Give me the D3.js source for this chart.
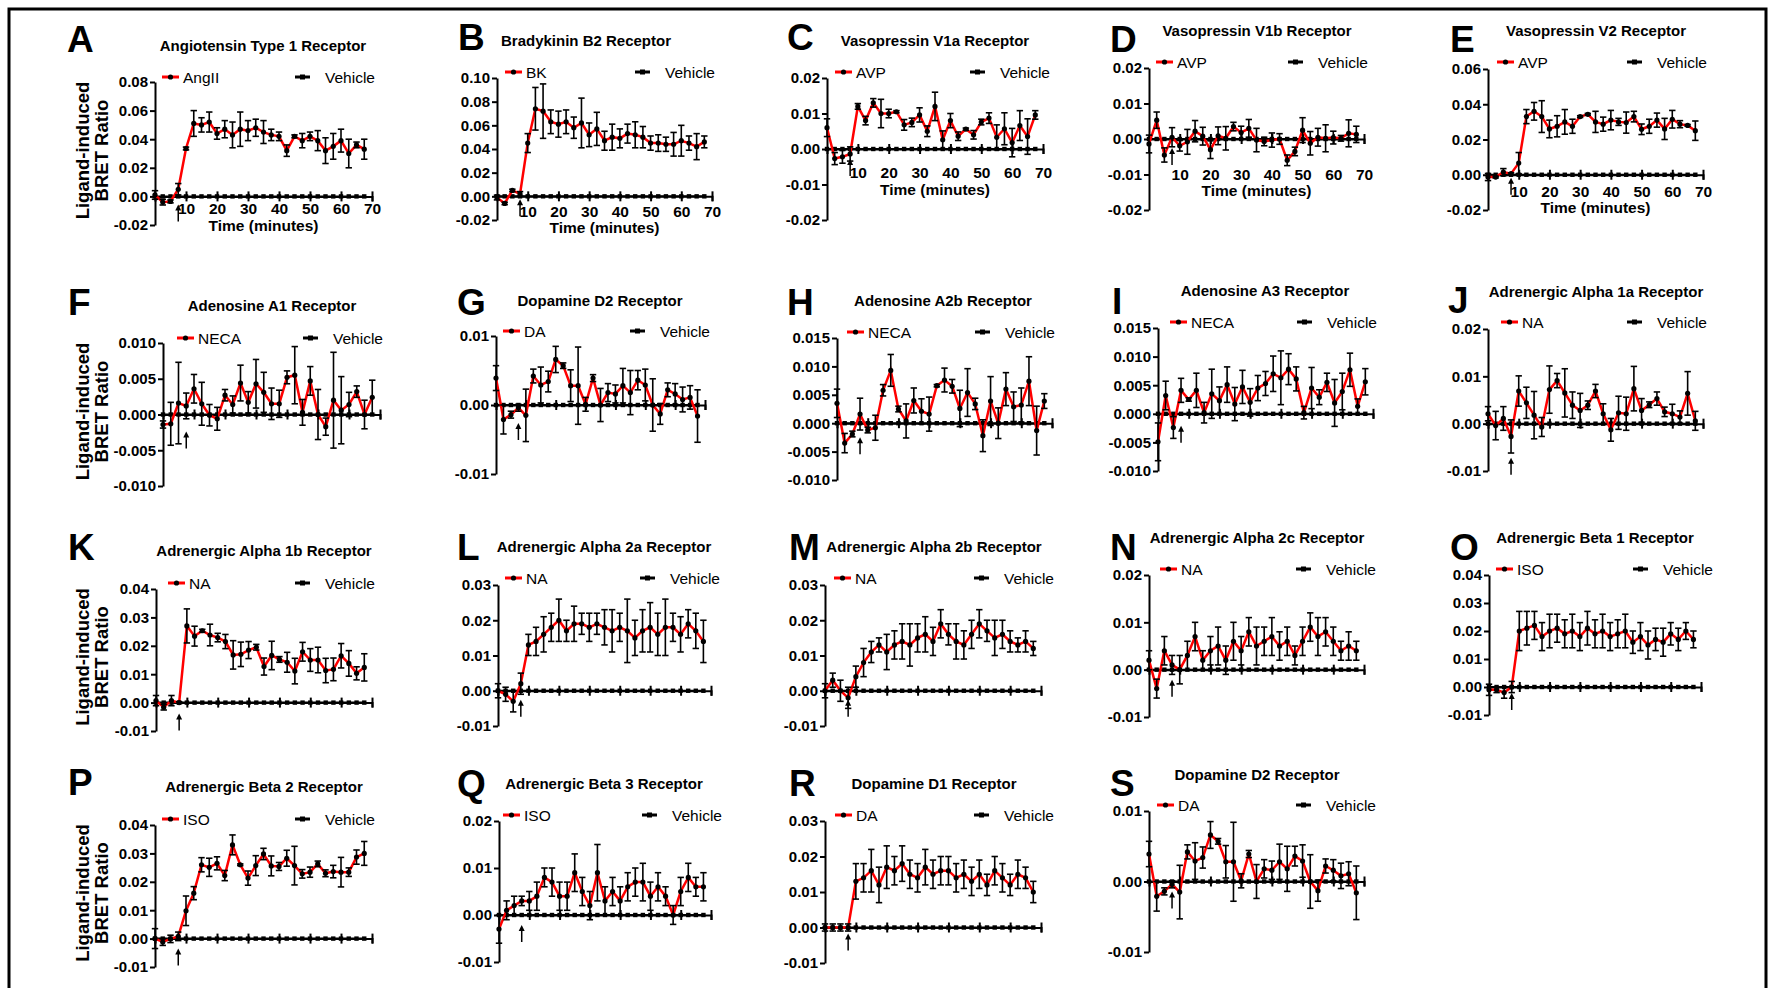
<!DOCTYPE html>
<html>
<head>
<meta charset="utf-8">
<script src="https://cdn.jsdelivr.net/npm/d3@7"></script>
<style>
body { margin: 0; background: #fff; }
svg text { font-family: "Liberation Sans", Arial, Helvetica, sans-serif; fill: #000; }
</style>
</head>
<body>
<svg id="fig" width="1775" height="988"></svg>
<script>
// one reading every 2.5 min, ligand added at 7.5 min
let times = [0, 2.5, 5, 7.5, 10, 12.5, 15, 17.5, 20, 22.5, 25, 27.5, 30, 32.5, 35, 37.5, 40, 42.5, 45, 47.5, 50, 52.5, 55, 57.5, 60, 62.5, 65, 67.5];
let vehicle = [0, 0, 0, 0, 0, 0, 0, 0, 0, 0, 0, 0, 0, 0, 0, 0, 0, 0, 0, 0, 0, 0, 0, 0, 0, 0, 0, 0];
let addTime = 7.5;
let xTicks = [10, 20, 30, 40, 50, 60, 70];

// ligand curves (mean, sem)
let meanA = [0.001, -0.004, -0.0035, 0.005, 0.0335, 0.051, 0.050, 0.052, 0.044, 0.047, 0.043, 0.047, 0.046, 0.048, 0.045, 0.043, 0.042, 0.032, 0.042, 0.039, 0.042, 0.039, 0.032, 0.035, 0.039, 0.030, 0.036, 0.033];
let semA = [0.003, 0.002, 0.001, 0.004, 0.001, 0.009, 0.005, 0.007, 0.004, 0.006, 0.009, 0.012, 0.007, 0.006, 0.008, 0.004, 0.003, 0.004, 0.001, 0.005, 0.003, 0.007, 0.009, 0.009, 0.008, 0.010, 0.002, 0.007];
let meanB = [-0.001, -0.006, 0.005, 0.002, 0.045, 0.074, 0.072, 0.063, 0.061, 0.063, 0.058, 0.062, 0.052, 0.057, 0.047, 0.050, 0.049, 0.053, 0.052, 0.050, 0.045, 0.045, 0.044, 0.044, 0.047, 0.045, 0.042, 0.046];
let semB = [0.002, 0.001, 0.001, 0.002, 0.008, 0.018, 0.023, 0.010, 0.011, 0.010, 0.009, 0.021, 0.010, 0.014, 0.008, 0.011, 0.008, 0.008, 0.011, 0.009, 0.006, 0.007, 0.006, 0.010, 0.013, 0.006, 0.011, 0.005];
let meanC = [0.006, -0.0027, -0.0022, -0.0014, 0.012, 0.008, 0.013, 0.010, 0.010, 0.0105, 0.0068, 0.0075, 0.0096, 0.005, 0.012, 0.0026, 0.008, 0.0036, 0.0056, 0.004, 0.0076, 0.0087, 0.0033, 0.0057, 0.0018, 0.0066, 0.0035, 0.0096];
let semC = [0.0025, 0.0017, 0.0018, 0.002, 0.0008, 0.0012, 0.0012, 0.004, 0.0012, 0.0003, 0.0015, 0.0012, 0.002, 0.0015, 0.004, 0.0025, 0.002, 0.0012, 0.0003, 0.0012, 0.0008, 0.0015, 0.0035, 0.0045, 0.004, 0.0042, 0.005, 0.0012];
let meanD = [-0.0014, 0.0053, -0.0045, 0.0005, -0.0019, -0.0008, 0.0022, 0.0008, -0.003, 0.0009, 0.0002, 0.0035, 0.0018, 0.003, -0.0003, -0.0007, -0.0003, 0, -0.006, -0.0035, 0.0025, -0.0012, 0.0005, 0.0002, 0.0004, 0.0002, 0.0016, 0.0013];
let semD = [0.0025, 0.0023, 0.002, 0.0027, 0.0015, 0.0035, 0.003, 0.0025, 0.0025, 0.0025, 0.0033, 0.0012, 0.0018, 0.0025, 0.0033, 0.0012, 0.002, 0.0015, 0.0015, 0.0012, 0.0035, 0.0033, 0.0025, 0.0038, 0.0018, 0.0008, 0.0038, 0.0023];
let meanE = [-0.0013, -0.0013, 0.0015, 0.0006, 0.0066, 0.033, 0.036, 0.033, 0.026, 0.0275, 0.030, 0.0275, 0.033, 0.0343, 0.030, 0.0287, 0.031, 0.030, 0.0296, 0.033, 0.0258, 0.0275, 0.031, 0.026, 0.0315, 0.0287, 0.028, 0.025];
let semE = [0.002, 0.0005, 0.002, 0.0005, 0.006, 0.004, 0.005, 0.009, 0.005, 0.006, 0.007, 0.004, 0.0005, 0.0005, 0.006, 0.004, 0.0055, 0.002, 0.006, 0.003, 0.003, 0.004, 0.004, 0.006, 0.005, 0.002, 0.0005, 0.0055];
let meanF = [-0.0014, -0.0013, 0.0016, 0.0012, 0.0036, 0.0015, -0.0001, -0.0006, 0.0027, 0.0014, 0.0044, 0.0017, 0.0043, 0.0031, 0.0015, 0.0015, 0.0052, 0.0055, 0.0003, 0.0047, 0, -0.0017, 0.002, 0.0006, 0.0014, 0.0032, 0, 0.0024];
let semF = [0.0005, 0.003, 0.0057, 0.0018, 0.002, 0.003, 0.0015, 0.0016, 0.0008, 0.0012, 0.0025, 0.0015, 0.0034, 0.0028, 0.0022, 0.0019, 0.0009, 0.004, 0.0018, 0.002, 0.0035, 0.0012, 0.0067, 0.0047, 0.0017, 0.0008, 0.002, 0.0024];
let meanG = [0.0039, -0.0021, -0.0014, -0.0004, -0.0015, 0.0042, 0.0029, 0.0034, 0.0066, 0.0057, 0.0028, 0.0028, 0.0001, 0.0039, 0, 0.0018, 0.0016, 0.0028, 0.0018, 0.0036, 0.0029, 0, -0.0013, 0.0022, 0.0016, 0.0008, 0.0011, -0.0016];
let semG = [0.0018, 0.0021, 0.0005, 0.0005, 0.0038, 0.001, 0.0026, 0.0015, 0.0019, 0.0004, 0.0023, 0.0056, 0.001, 0.0005, 0.0024, 0.0013, 0.0013, 0.0025, 0.0032, 0.0014, 0.0023, 0.0038, 0.0015, 0.001, 0.0015, 0.0018, 0.0017, 0.0038];
let meanH = [0.0035, -0.0035, -0.0019, 0.0016, -0.0012, -0.0008, 0.0058, 0.0093, 0.0025, 0.0004, 0.004, 0.0021, 0.0016, 0.0066, 0.0076, 0.0065, 0.0026, 0.0054, 0.0034, -0.0022, 0.0039, 0, 0.006, 0.0029, 0.0032, 0.0074, -0.0013, 0.0039];
let semH = [0.0025, 0.0017, 0.0005, 0.0028, 0.0005, 0.0022, 0.001, 0.0028, 0.0005, 0.003, 0.0022, 0.0022, 0.003, 0.0002, 0.0021, 0.0012, 0.0032, 0.0042, 0.001, 0.0028, 0.0043, 0.0027, 0.0029, 0.0026, 0.003, 0.0043, 0.0043, 0.0013];
let meanI = [-0.0049, 0.0032, -0.0024, 0.0041, 0.0025, 0.0041, 0.0002, 0.0035, 0.0023, 0.0051, 0.0017, 0.0047, 0.002, 0.0045, 0.0053, 0.007, 0.0063, 0.0078, 0.0061, 0.0002, 0.0045, 0.0029, 0.0055, 0.0019, 0.0039, 0.0077, 0.0013, 0.0056];
let semI = [0.0033, 0.0025, 0.0019, 0.0021, 0.0003, 0.003, 0.0018, 0.0043, 0.0024, 0.0031, 0.0029, 0.0029, 0.0024, 0.0022, 0.0021, 0.0031, 0.0047, 0.0027, 0.0021, 0.0011, 0.0036, 0.0013, 0.0016, 0.0041, 0.0032, 0.0029, 0.0013, 0.0023];
let meanJ = [0.0021, -0.0004, 0.0011, -0.0027, 0.0069, 0.0044, 0.0018, -0.0007, 0.0072, 0.0091, 0.0065, 0.0039, 0.0028, 0.0039, 0.0069, 0.0021, -0.0013, 0.0023, 0.0021, 0.0074, 0.0028, 0.004, 0.0053, 0.0025, 0.0021, 0.0014, 0.0064, 0.0006];
let semJ = [0.0015, 0.003, 0.0025, 0.0035, 0.0032, 0.0033, 0.005, 0.002, 0.005, 0.0015, 0.0051, 0.0028, 0.0036, 0.0009, 0.0014, 0.0021, 0.0024, 0.0035, 0.0035, 0.0047, 0.0025, 0.0006, 0.0014, 0.001, 0.002, 0.0013, 0.0046, 0.002];
let meanK = [0.0007, -0.0016, 0.0007, 0, 0.027, 0.0234, 0.0253, 0.0238, 0.0229, 0.0215, 0.0168, 0.017, 0.0185, 0.0195, 0.0127, 0.0166, 0.0152, 0.0142, 0.0111, 0.0179, 0.015, 0.015, 0.0113, 0.0117, 0.0165, 0.0138, 0.0103, 0.0124];
let semK = [0.0018, 0.001, 0.0018, 0.0003, 0.006, 0.0035, 0.0005, 0.0038, 0.0015, 0.0025, 0.005, 0.0043, 0.003, 0.001, 0.003, 0.005, 0.001, 0.0035, 0.0045, 0.0033, 0.004, 0.0045, 0.0043, 0.004, 0.0043, 0.0045, 0.0023, 0.0048];
let meanL = [0, -0.001, -0.003, 0.002, 0.013, 0.014, 0.016, 0.018, 0.020, 0.017, 0.019, 0.019, 0.018, 0.019, 0.018, 0.017, 0.018, 0.017, 0.015, 0.017, 0.018, 0.016, 0.018, 0.018, 0.016, 0.019, 0.017, 0.014];
let semL = [0.002, 0.002, 0.003, 0.003, 0.003, 0.004, 0.005, 0.004, 0.006, 0.003, 0.005, 0.003, 0.004, 0.003, 0.005, 0.006, 0.004, 0.009, 0.005, 0.006, 0.007, 0.006, 0.008, 0.004, 0.005, 0.004, 0.005, 0.006];
let meanM = [0, 0.003, 0, -0.002, 0.004, 0.008, 0.011, 0.013, 0.011, 0.013, 0.014, 0.013, 0.015, 0.016, 0.014, 0.019, 0.016, 0.014, 0.013, 0.016, 0.019, 0.017, 0.015, 0.016, 0.014, 0.013, 0.014, 0.012];
let semM = [0.002, 0.002, 0.003, 0.003, 0.003, 0.004, 0.003, 0.002, 0.005, 0.004, 0.005, 0.006, 0.004, 0.005, 0.004, 0.004, 0.003, 0.005, 0.004, 0.004, 0.004, 0.003, 0.005, 0.004, 0.003, 0.002, 0.003, 0.002];
let meanN = [0.002, -0.004, 0.004, 0.001, 0, 0.003, 0.007, 0.002, 0.004, 0.005, 0.002, 0.006, 0.004, 0.008, 0.005, 0.006, 0.007, 0.005, 0.006, 0.003, 0.006, 0.009, 0.007, 0.008, 0.006, 0.004, 0.005, 0.004];
let semN = [0.002, 0.002, 0.003, 0.002, 0.003, 0.003, 0.003, 0.002, 0.003, 0.004, 0.003, 0.004, 0.003, 0.003, 0.004, 0.003, 0.004, 0.003, 0.003, 0.002, 0.003, 0.003, 0.004, 0.003, 0.003, 0.002, 0.003, 0.002];
let meanO = [-0.001, -0.001, -0.002, 0, 0.020, 0.021, 0.022, 0.018, 0.020, 0.021, 0.019, 0.020, 0.018, 0.021, 0.019, 0.020, 0.018, 0.019, 0.020, 0.016, 0.018, 0.015, 0.017, 0.016, 0.019, 0.017, 0.020, 0.017];
let semO = [0.002, 0.001, 0.002, 0.002, 0.007, 0.006, 0.005, 0.005, 0.006, 0.005, 0.005, 0.006, 0.005, 0.006, 0.005, 0.006, 0.005, 0.005, 0.006, 0.004, 0.005, 0.005, 0.004, 0.005, 0.004, 0.004, 0.003, 0.003];
let meanP = [0, -0.0012, -0.0001, 0.0008, 0.0098, 0.016, 0.026, 0.0251, 0.0265, 0.0222, 0.033, 0.026, 0.0213, 0.0257, 0.0298, 0.0256, 0.0254, 0.0283, 0.0257, 0.0228, 0.0234, 0.0263, 0.023, 0.0236, 0.0234, 0.0234, 0.0287, 0.030];
let semP = [0.0035, 0.0012, 0.0013, 0.0015, 0.0052, 0.0023, 0.0025, 0.0032, 0.0023, 0.0018, 0.0035, 0.0003, 0.0025, 0.0035, 0.002, 0.0035, 0.0014, 0.0028, 0.0068, 0.0015, 0.0018, 0.001, 0.0012, 0.0022, 0.0052, 0.0015, 0.0025, 0.0042];
let meanQ = [-0.003, 0.001, 0.002, 0.003, 0.003, 0.004, 0.008, 0.007, 0.004, 0.004, 0.009, 0.005, 0.002, 0.009, 0.003, 0.005, 0.003, 0.006, 0.007, 0.007, 0.004, 0.006, 0.004, 0, 0.005, 0.008, 0.006, 0.006];
let semQ = [0.003, 0.002, 0.002, 0.001, 0.002, 0.003, 0.002, 0.003, 0.003, 0.003, 0.004, 0.003, 0.003, 0.006, 0.003, 0.003, 0.003, 0.003, 0.003, 0.004, 0.003, 0.003, 0.002, 0.002, 0.003, 0.003, 0.002, 0.003];
let meanR = [0, 0, 0, 0, 0.013, 0.014, 0.016, 0.012, 0.017, 0.016, 0.018, 0.015, 0.014, 0.017, 0.015, 0.016, 0.016, 0.014, 0.015, 0.013, 0.015, 0.012, 0.016, 0.014, 0.012, 0.015, 0.014, 0.010];
let semR = [0.001, 0.001, 0.001, 0.001, 0.005, 0.004, 0.006, 0.005, 0.006, 0.004, 0.005, 0.004, 0.004, 0.005, 0.004, 0.004, 0.004, 0.004, 0.004, 0.004, 0.004, 0.003, 0.004, 0.004, 0.003, 0.004, 0.003, 0.003];

// y tick labels per panel
let ticksA = [-0.02, 0, 0.02, 0.04, 0.06, 0.08];
let ticksB = [-0.02, 0, 0.02, 0.04, 0.06, 0.08, 0.10];
let ticksCD = [-0.02, -0.01, 0, 0.01, 0.02];
let ticksE = [-0.02, 0, 0.02, 0.04, 0.06];
let ticksF = [-0.010, -0.005, 0, 0.005, 0.010];
let ticksG = [-0.01, 0, 0.01];
let ticksHI = [-0.010, -0.005, 0, 0.005, 0.010, 0.015];
let ticksJN = [-0.01, 0, 0.01, 0.02];
let ticksKO = [-0.01, 0, 0.01, 0.02, 0.03, 0.04];
let ticksLM = [-0.01, 0, 0.01, 0.02, 0.03];

// panel layout: axis box, letter, title, legend, arrow, time labels
let panels = [
  {letter: "A", title: "Angiotensin Type 1 Receptor", agonist: "AngII", mean: meanA, sem: semA, ticks: ticksA, dp: 2, x0: 155, x1: 372, yTop: 82, yBot: 225, lx: 67, ly: 52, tx: 263, ty: 51, legX: 162, legY: 77, vehX: 295, gap: 8, timeLab: [214, 231], yLabel: true},
  {letter: "B", title: "Bradykinin B2 Receptor", agonist: "BK", mean: meanB, sem: semB, ticks: ticksB, dp: 2, x0: 497, x1: 712, yTop: 78, yBot: 220, lx: 458, ly: 50, tx: 586, ty: 46, legX: 505, legY: 72, vehX: 635, gap: 3, timeLab: [217, 233]},
  {letter: "C", title: "Vasopressin V1a Receptor", agonist: "AVP", mean: meanC, sem: semC, ticks: ticksCD, dp: 2, x0: 827, x1: 1043, yTop: 78, yBot: 220, lx: 787, ly: 50, tx: 935, ty: 46, legX: 835, legY: 72, vehX: 970, gap: 10, timeLab: [178, 195]},
  {letter: "D", title: "Vasopressin V1b Receptor", agonist: "AVP", mean: meanD, sem: semD, ticks: ticksCD, dp: 2, x0: 1149, x1: 1364, yTop: 68, yBot: 210, lx: 1110, ly: 52, tx: 1257, ty: 36, legX: 1156, legY: 62, vehX: 1288, gap: 9, timeLab: [180, 196]},
  {letter: "E", title: "Vasopressin V2 Receptor", agonist: "AVP", mean: meanE, sem: semE, ticks: ticksE, dp: 2, x0: 1488, x1: 1703, yTop: 69, yBot: 210, lx: 1450, ly: 52, tx: 1596, ty: 36, legX: 1497, legY: 62, vehX: 1627, gap: 3, timeLab: [197, 213]},
  {letter: "F", title: "Adenosine A1 Receptor", agonist: "NECA", mean: meanF, sem: semF, ticks: ticksF, dp: 3, x0: 163, x1: 380, yTop: 343, yBot: 486, lx: 68, ly: 315, tx: 272, ty: 311, legX: 177, legY: 338, vehX: 303, gap: 17, yLabel: true},
  {letter: "G", title: "Dopamine D2 Receptor", agonist: "DA", mean: meanG, sem: semG, ticks: ticksG, dp: 2, x0: 496, x1: 705, yTop: 336, yBot: 474, lx: 457, ly: 315, tx: 600, ty: 306, legX: 503, legY: 331, vehX: 630, gap: 18},
  {letter: "H", title: "Adenosine A2b Receptor", agonist: "NECA", mean: meanH, sem: semH, ticks: ticksHI, dp: 3, x0: 837, x1: 1052, yTop: 338, yBot: 480, lx: 787, ly: 315, tx: 943, ty: 306, legX: 847, legY: 332, vehX: 975, gap: 14},
  {letter: "I", title: "Adenosine A3 Receptor", agonist: "NECA", mean: meanI, sem: semI, ticks: ticksHI, dp: 3, x0: 1158, x1: 1373, yTop: 328, yBot: 471, lx: 1112, ly: 314, tx: 1265, ty: 296, legX: 1170, legY: 322, vehX: 1297, gap: 12},
  {letter: "J", title: "Adrenergic Alpha 1a Receptor", agonist: "NA", mean: meanJ, sem: semJ, ticks: ticksJN, dp: 2, x0: 1488, x1: 1703, yTop: 329, yBot: 471, lx: 1448, ly: 313, tx: 1596, ty: 297, legX: 1501, legY: 322, vehX: 1627, gap: 34},
  {letter: "K", title: "Adrenergic Alpha 1b Receptor", agonist: "NA", mean: meanK, sem: semK, ticks: ticksKO, dp: 2, x0: 156, x1: 372, yTop: 589, yBot: 731, lx: 68, ly: 560, tx: 264, ty: 556, legX: 168, legY: 583, vehX: 295, gap: 11, yLabel: true},
  {letter: "L", title: "Adrenergic Alpha 2a Receptor", agonist: "NA", mean: meanL, sem: semL, ticks: ticksLM, dp: 2, x0: 498, x1: 711, yTop: 585, yBot: 726, lx: 457, ly: 560, tx: 604, ty: 552, legX: 505, legY: 578, vehX: 640, gap: 9},
  {letter: "M", title: "Adrenergic Alpha 2b Receptor", agonist: "NA", mean: meanM, sem: semM, ticks: ticksLM, dp: 2, x0: 825, x1: 1041, yTop: 585, yBot: 726, lx: 789, ly: 560, tx: 934, ty: 552, legX: 834, legY: 578, vehX: 974, gap: 9},
  {letter: "N", title: "Adrenergic Alpha 2c Receptor", agonist: "NA", mean: meanN, sem: semN, ticks: ticksJN, dp: 2, x0: 1149, x1: 1364, yTop: 575, yBot: 717, lx: 1110, ly: 560, tx: 1257, ty: 543, legX: 1160, legY: 569, vehX: 1296, gap: 10},
  {letter: "O", title: "Adrenergic Beta 1 Receptor", agonist: "ISO", mean: meanO, sem: semO, ticks: ticksKO, dp: 2, x0: 1489, x1: 1701, yTop: 575, yBot: 715, lx: 1450, ly: 560, tx: 1595, ty: 543, legX: 1496, legY: 569, vehX: 1633, gap: 6},
  {letter: "P", title: "Adrenergic Beta 2 Receptor", agonist: "ISO", mean: meanP, sem: semP, ticks: ticksKO, dp: 2, x0: 155, x1: 372, yTop: 825, yBot: 967, lx: 68, ly: 795, tx: 264, ty: 792, legX: 162, legY: 819, vehX: 295, gap: 10, yLabel: true},
  {letter: "Q", title: "Adrenergic Beta 3 Receptor", agonist: "ISO", mean: meanQ, sem: semQ, ticks: ticksJN, dp: 2, x0: 499, x1: 711, yTop: 821, yBot: 962, lx: 457, ly: 796, tx: 604, ty: 789, legX: 503, legY: 815, vehX: 642, gap: 10},
  {letter: "R", title: "Dopamine D1 Receptor", agonist: "DA", mean: meanR, sem: semR, ticks: ticksLM, dp: 2, x0: 825, x1: 1041, yTop: 821, yBot: 963, lx: 789, ly: 796, tx: 934, ty: 789, legX: 835, legY: 815, vehX: 974, gap: 6},
  {letter: "S", title: "Dopamine D2 Receptor", agonist: "DA", mean: meanG, sem: semG, ticks: ticksG, dp: 2, x0: 1149, x1: 1364, yTop: 811, yBot: 952, lx: 1110, ly: 796, tx: 1257, ty: 780, legX: 1157, legY: 805, vehX: 1296, gap: 10}
];

let svg = d3.select("#fig");

// outer frame
svg.append("rect")
  .attr("x", 9).attr("y", 9)
  .attr("width", 1757).attr("height", 1000)
  .attr("fill", "none").attr("stroke", "#000").attr("stroke-width", 3);

panels.forEach(function (p) {
  let x = d3.scaleLinear().domain([0, 70]).range([p.x0, p.x1]);
  let y = d3.scaleLinear().domain([d3.min(p.ticks), d3.max(p.ticks)]).range([p.yBot, p.yTop]);
  let y0 = y(0);
  let g = svg.append("g");

  let fmt = function (v) {
    return d3.format("." + p.dp + "f")(v).replace("\u2212", "-");
  };

  // y axis
  let yAxis = d3.axisLeft(y).tickValues(p.ticks).tickFormat(fmt).tickSize(5).tickSizeOuter(0).tickPadding(2);
  let ya = g.append("g").attr("transform", "translate(" + p.x0 + ",0)").call(yAxis);
  ya.select(".domain").attr("stroke", "#000").attr("stroke-width", 2);
  ya.selectAll(".tick line").attr("stroke", "#000").attr("stroke-width", 2);
  ya.selectAll(".tick text").attr("font-size", 15).attr("font-weight", "bold").attr("fill", "#000");

  // x axis sits on zero
  let xAxis = d3.axisBottom(x).tickValues(xTicks).tickSizeOuter(0).tickSize(5)
    .tickFormat(p.timeLab ? d3.format("d") : "");
  let xa = g.append("g").attr("transform", "translate(0," + y0 + ")").call(xAxis);
  xa.select(".domain").attr("stroke", "#000").attr("stroke-width", 2);
  xa.selectAll(".tick line").attr("stroke", "#000").attr("stroke-width", 2).attr("y1", -5);
  xa.selectAll(".tick text")
    .attr("font-size", 15.5).attr("font-weight", "bold").attr("fill", "#000")
    .attr("dy", 0).attr("y", p.timeLab ? p.timeLab[0] - y0 : 0);

  if (p.timeLab) {
    g.append("text")
      .attr("x", (p.x0 + p.x1) / 2).attr("y", p.timeLab[1])
      .attr("text-anchor", "middle")
      .attr("font-size", 15.5).attr("font-weight", "bold")
      .text("Time (minutes)");
  }

  // vehicle trace with its tiny error caps
  let line = d3.line().x(function (d, i) { return x(times[i]); }).y(function (d) { return y(d); });
  g.append("path").datum(vehicle).attr("d", line)
    .attr("fill", "none").attr("stroke", "#000").attr("stroke-width", 2);
  g.selectAll(".veh").data(vehicle).enter().append("rect")
    .attr("x", function (d, i) { return x(times[i]) - 2.2; })
    .attr("y", function (d) { return y(d) - 2.2; })
    .attr("width", 4.4).attr("height", 4.4).attr("fill", "#000");

  // ligand trace
  g.append("path").datum(p.mean).attr("d", line)
    .attr("fill", "none").attr("stroke", "#f00").attr("stroke-width", 2.5)
    .attr("stroke-linejoin", "miter");

  let bars = g.selectAll(".err").data(p.mean).enter().append("g");
  bars.append("line")
    .attr("x1", function (d, i) { return x(times[i]); })
    .attr("x2", function (d, i) { return x(times[i]); })
    .attr("y1", function (d, i) { return y(d - p.sem[i]); })
    .attr("y2", function (d, i) { return y(d + p.sem[i]); })
    .attr("stroke", "#000").attr("stroke-width", 1.6);
  [-1, 1].forEach(function (s) {
    bars.append("line")
      .attr("x1", function (d, i) { return x(times[i]) - 3.2; })
      .attr("x2", function (d, i) { return x(times[i]) + 3.2; })
      .attr("y1", function (d, i) { return y(d + s * p.sem[i]); })
      .attr("y2", function (d, i) { return y(d + s * p.sem[i]); })
      .attr("stroke", "#000").attr("stroke-width", 1.6);
  });
  g.selectAll(".pt").data(p.mean).enter().append("circle")
    .attr("cx", function (d, i) { return x(times[i]); })
    .attr("cy", function (d) { return y(d); })
    .attr("r", 2.6).attr("fill", "#000");

  // arrow marking ligand addition
  let ax = x(addTime), tip = y0 + p.gap;
  g.append("line").attr("x1", ax).attr("x2", ax).attr("y1", tip + 3).attr("y2", tip + 17)
    .attr("stroke", "#000").attr("stroke-width", 1.5);
  g.append("path")
    .attr("d", "M" + ax + "," + tip + "L" + (ax - 3) + "," + (tip + 6) + "L" + (ax + 3) + "," + (tip + 6) + "Z")
    .attr("fill", "#000");

  // legend
  g.append("line").attr("x1", p.legX).attr("x2", p.legX + 17).attr("y1", p.legY).attr("y2", p.legY)
    .attr("stroke", "#f00").attr("stroke-width", 3);
  g.append("circle").attr("cx", p.legX + 8.5).attr("cy", p.legY).attr("r", 2.6).attr("fill", "#000");
  g.append("text").attr("x", p.legX + 21).attr("y", p.legY)
    .attr("dominant-baseline", "central").attr("font-size", 15.5).text(p.agonist);
  g.append("line").attr("x1", p.vehX).attr("x2", p.vehX + 15).attr("y1", p.legY).attr("y2", p.legY)
    .attr("stroke", "#000").attr("stroke-width", 3);
  g.append("rect").attr("x", p.vehX + 5).attr("y", p.legY - 2.5).attr("width", 5).attr("height", 5).attr("fill", "#000");
  g.append("text").attr("x", p.vehX + 30).attr("y", p.legY)
    .attr("dominant-baseline", "central").attr("font-size", 15.5).text("Vehicle");

  // letter and title
  g.append("text").attr("x", p.lx).attr("y", p.ly)
    .attr("font-size", 37).attr("font-weight", "bold").text(p.letter);
  g.append("text").attr("x", p.tx).attr("y", p.ty)
    .attr("text-anchor", "middle").attr("font-size", 15).attr("font-weight", "bold").text(p.title);

  if (p.yLabel) {
    let cy = (p.yTop + p.yBot) / 2 - 3;
    [["Ligand-induced", 82], ["BRET Ratio", 101]].forEach(function (l) {
      g.append("text")
        .attr("transform", "translate(" + l[1] + "," + cy + ") rotate(-90)")
        .attr("text-anchor", "middle").attr("dominant-baseline", "central")
        .attr("font-size", 18.5).attr("font-weight", "bold").text(l[0]);
    });
  }
});
</script>
</body>
</html>
